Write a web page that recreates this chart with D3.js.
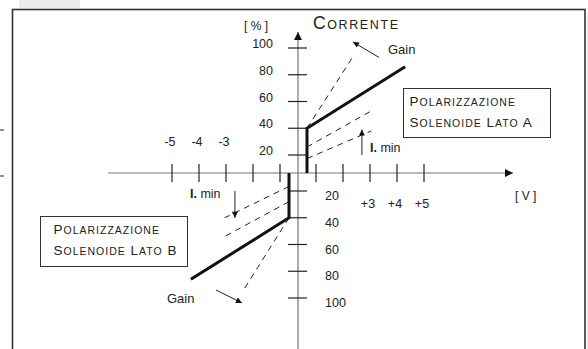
<!DOCTYPE html>
<html>
<head>
<meta charset="utf-8">
<script src="https://cdn.jsdelivr.net/npm/d3@7"></script>
<style>
  body { margin: 0; background: #fff; }
  svg { display: block; font-family: "Liberation Sans", Arial, Helvetica, sans-serif; }
</style>
</head>
<body>
<script>
// valori (volt, percento)
var xTicks = [-5, -4, -3, -2, -1, 1, 2, 3, 4, 5];
var xLabels = ['-5', '-4', '-3', '', '', '', '', '+3', '+4', '+5'];
var yTicks = [20, 40, 60, 80, 100];
var yLabels = ['20', '40', '60', '80', '100'];

var curveA = [[0.5, 0], [0.5, 40], [4.3, 86]];
var curveB = [[-0.5, 0], [-0.5, -40], [-4.3, -86]];
var gainA = [[0.5, 40], [2.35, 93]];
var gainB = [[-0.5, -40], [-2.35, -94]];
var iminA = [[[0.5, 26], [3.05, 53]], [[0.5, 16], [3.05, 38]]];
var iminB = [[[-0.5, -15], [-3.05, -40]], [[-0.5, -28], [-3.05, -54]]];
var gainArrowA = [[3.33, 93], [2.37, 104.5]];
var gainArrowB = [[-3.37, -94], [-2.41, -103.7]];
var iminArrowA = [[2.7, 20], [2.7, 39]];
var iminArrowB = [[-2.67, -20], [-2.67, -40]];

var svg = d3.select('body').append('svg')
    .attr('width', 588)
    .attr('height', 349);

var defs = svg.append('defs');
defs.append('marker')
    .attr('id', 'ax')
    .attr('markerUnits', 'userSpaceOnUse')
    .attr('viewBox', '0 0 10 10')
    .attr('refX', 10).attr('refY', 5)
    .attr('markerWidth', 9).attr('markerHeight', 8)
    .attr('orient', 'auto')
    .append('path').attr('d', 'M0,0L10,5L0,10Z').attr('fill', '#111');
defs.append('marker')
    .attr('id', 'ar')
    .attr('markerUnits', 'userSpaceOnUse')
    .attr('viewBox', '0 0 10 10')
    .attr('refX', 10).attr('refY', 5)
    .attr('markerWidth', 8).attr('markerHeight', 6)
    .attr('orient', 'auto')
    .append('path').attr('d', 'M0,0L10,5L0,10Z').attr('fill', '#111');

// bordi e residui della scansione
svg.append('rect').attr('x', 19).attr('y', 0).attr('width', 61).attr('height', 8).attr('fill', '#ebebeb');
svg.append('rect').attr('x', 587).attr('y', 14).attr('width', 1).attr('height', 335).attr('fill', '#e6e6e6');
svg.append('rect')
    .attr('x', 12.5).attr('y', 9.5)
    .attr('width', 572.5).attr('height', 360)
    .attr('fill', 'none').attr('stroke', '#333').attr('stroke-width', 1.6);
[130, 176].forEach(function (yy) {
    svg.append('line').attr('x1', 0).attr('x2', 4).attr('y1', yy).attr('y2', yy)
        .attr('stroke', '#222').attr('stroke-width', 1);
});

var g = svg.append('g').attr('transform', 'translate(298,173)');

var x = d3.scaleLinear().domain([-5, -1, 0, 1, 5]).range([-126, -18, 0, 18, 126]);
var y = d3.scaleLinear().domain([-100, -20, 0, 20, 100]).range([125, 18, 0, -18, -125]);

var line = d3.line()
    .x(function (d) { return x(d[0]); })
    .y(function (d) { return y(d[1]); });

// maiuscoletto: iniziale grande, resto piccolo
function smallCaps(xx, yy, str, big, small, spacing) {
    var t = g.append('text')
        .attr('x', xx).attr('y', yy)
        .attr('fill', '#222')
        .attr('letter-spacing', spacing);
    str.split(' ').forEach(function (w, i) {
        t.append('tspan').attr('font-size', big).text((i > 0 ? ' ' : '') + w.charAt(0).toUpperCase());
        t.append('tspan').attr('font-size', small).text(w.slice(1).toUpperCase());
    });
    return t;
}

// assi
g.append('line')
    .attr('x1', -190).attr('x2', 215).attr('y1', 0).attr('y2', 0)
    .attr('stroke', '#777').attr('stroke-width', 1.2)
    .attr('marker-end', 'url(#ax)');
g.append('line')
    .attr('x1', 0).attr('x2', 0).attr('y1', 185).attr('y2', -141)
    .attr('stroke', '#777').attr('stroke-width', 1.2)
    .attr('marker-end', 'url(#ax)');

g.selectAll('.xtick')
    .data(xTicks)
    .enter().append('line')
    .attr('class', 'xtick')
    .attr('x1', x).attr('x2', x)
    .attr('y1', -9).attr('y2', 9)
    .attr('stroke', '#222').attr('stroke-width', 1.2);

g.selectAll('.xlab')
    .data(xTicks)
    .enter().append('text')
    .attr('class', 'xlab')
    .attr('x', function (d) { return x(d) - 2; })
    .attr('y', function (d) { return d < 0 ? -27 : 35; })
    .attr('text-anchor', 'middle')
    .attr('font-size', 12.5)
    .attr('fill', '#222')
    .text(function (d, i) { return xLabels[i]; });

var yAll = yTicks.concat(yTicks.map(function (d) { return -d; }));
g.selectAll('.ytick')
    .data(yAll)
    .enter().append('line')
    .attr('class', 'ytick')
    .attr('x1', -10).attr('x2', 9)
    .attr('y1', y).attr('y2', y)
    .attr('stroke', '#222').attr('stroke-width', 1.2);

g.selectAll('.ylabup')
    .data(yTicks)
    .enter().append('text')
    .attr('class', 'ylabup')
    .attr('x', -25)
    .attr('y', function (d) { return y(d); })
    .attr('text-anchor', 'end')
    .attr('font-size', 12.5)
    .attr('fill', '#222')
    .text(function (d, i) { return yLabels[i]; });

g.selectAll('.ylabdn')
    .data(yTicks)
    .enter().append('text')
    .attr('class', 'ylabdn')
    .attr('x', 27)
    .attr('y', function (d) { return y(-d) + 9; })
    .attr('font-size', 12.5)
    .attr('fill', '#222')
    .text(function (d, i) { return yLabels[i]; });

g.append('text').attr('x', -54).attr('y', -143).attr('font-size', 12).attr('fill', '#222').text('[ % ]');
g.append('text').attr('x', 217).attr('y', 27).attr('font-size', 12).attr('fill', '#222').text('[ V ]');

smallCaps(15, -144, 'Corrente', 17.5, 12.5, 1.6);

// linee tratteggiate (gain e I. min)
[gainA, gainB].concat(iminA, iminB).forEach(function (d) {
    g.append('path')
        .attr('d', line(d))
        .attr('fill', 'none')
        .attr('stroke', '#222')
        .attr('stroke-width', 1)
        .attr('stroke-dasharray', '6,5');
});

// caratteristica
[curveA, curveB].forEach(function (d) {
    g.append('path')
        .attr('d', line(d))
        .attr('fill', 'none')
        .attr('stroke', '#111')
        .attr('stroke-width', 3)
        .attr('stroke-linejoin', 'miter');
});

// frecce
[gainArrowA, gainArrowB, iminArrowA, iminArrowB].forEach(function (d) {
    g.append('path')
        .attr('d', line(d))
        .attr('fill', 'none')
        .attr('stroke', '#222')
        .attr('stroke-width', 1)
        .attr('marker-end', 'url(#ar)');
});

g.append('text').attr('x', 90).attr('y', -119).attr('font-size', 13).attr('fill', '#222').text('Gain');
g.append('text').attr('x', -131).attr('y', 130).attr('font-size', 13).attr('fill', '#222').text('Gain');

function imin(xx, yy) {
    var t = g.append('text').attr('x', xx).attr('y', yy).attr('font-size', 12.5).attr('fill', '#222');
    t.append('tspan').attr('font-weight', 'bold').text('I.');
    t.append('tspan').text(' min');
}
imin(72, -21);
imin(-108, 25);

// riquadri
function box(x0, y0, w, h, side, pad) {
    g.append('rect')
        .attr('x', x0).attr('y', y0).attr('width', w).attr('height', h)
        .attr('fill', 'none').attr('stroke', '#333').attr('stroke-width', 1);
    smallCaps(x0 + pad, y0 + 17, 'Polarizzazione', 13.5, 10.5, 1.0);
    smallCaps(x0 + pad, y0 + 38, 'Solenoide Lato ' + side, 13.5, 10.5, 1.0);
}
box(105.5, -84.5, 147, 49, 'A', 6);
box(-257.5, 43.5, 147, 50, 'B', 13);
</script>
</body>
</html>
